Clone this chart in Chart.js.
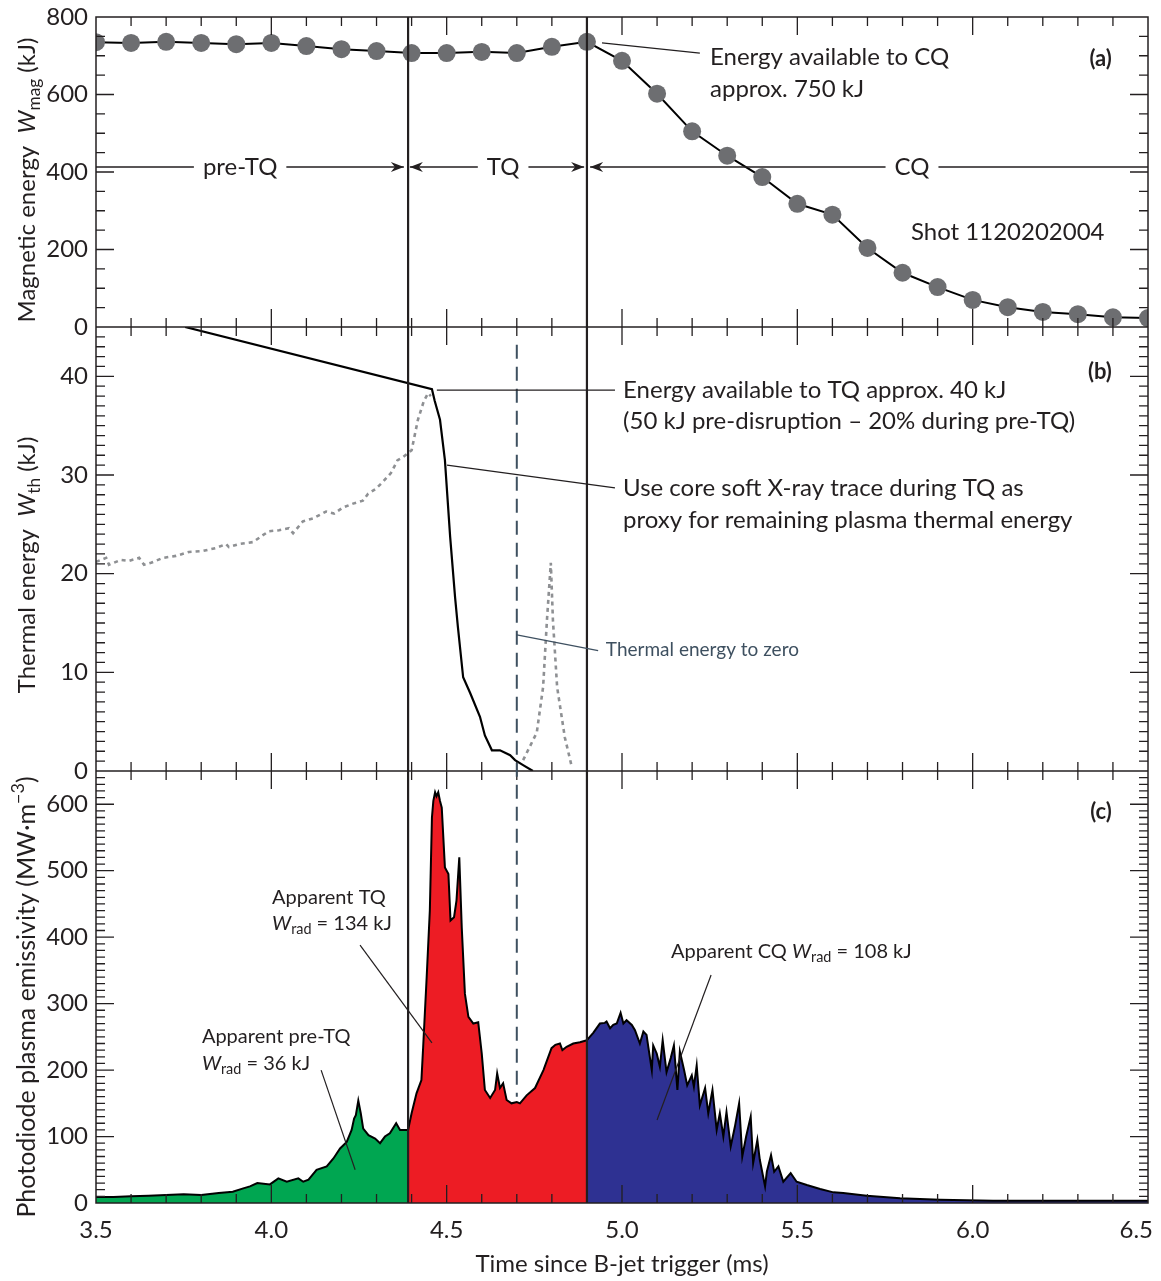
<!DOCTYPE html>
<html>
<head>
<meta charset="utf-8">
<script src="https://cdn.jsdelivr.net/npm/chart.js@4.4.1/dist/chart.umd.min.js"></script>
<style>
  html, body { margin: 0; padding: 0; background: #fff; }
  #wrap { width: 1161px; height: 1281px; position: relative; }
</style>
</head>
<body>
<div id="wrap"><canvas id="chart"></canvas></div>
<script>
var FONT = 'Lato, "Noto Sans", sans-serif';
var INK = '#231f20';

// (a) magnetic energy, kJ
var wmagTime = [3.5, 3.6, 3.7, 3.8, 3.9, 4.0, 4.1, 4.2, 4.3, 4.4, 4.5, 4.6, 4.7, 4.8, 4.9, 5.0,
                5.1, 5.2, 5.3, 5.4, 5.5, 5.6, 5.7, 5.8, 5.9, 6.0, 6.1, 6.2, 6.3, 6.4, 6.5];
var wmagValue = [735, 733, 736, 733, 730, 733, 725, 717, 712, 707, 707, 710, 707, 723, 736, 687,
                 602, 505, 442, 387, 318, 290, 204, 140, 103, 70, 51, 39, 33, 25, 23];

// (b) thermal energy proxy, kJ
var wthTime = [3.754, 4.458, 4.466, 4.481, 4.495, 4.510, 4.524, 4.532, 4.547, 4.567, 4.595,
               4.609, 4.629, 4.652, 4.681, 4.695, 4.718, 4.746];
var wthValue = [45, 38.7, 37.5, 35.6, 31.5, 23.7, 17.6, 14.6, 9.5, 7.9, 5.5,
                3.6, 2.1, 2.1, 1.6, 1.1, 0.6, 0];

// (b) core soft X-ray trace (scaled), gap where hidden behind the W_th line
var sxrTime = [3.500, 3.529, 3.537, 3.571, 3.594, 3.623, 3.637, 3.657, 3.691, 3.728, 3.765, 3.805,
               3.842, 3.871, 3.879, 3.908, 3.948, 3.976, 3.993, 4.022, 4.050, 4.062, 4.090, 4.119,
               4.156, 4.179, 4.204, 4.233, 4.261, 4.276, 4.298, 4.318, 4.341, 4.360, 4.375, 4.400,
               4.418, 4.435, 4.447, 4.455, 4.600,
               4.718, 4.757, 4.775, 4.786, 4.797, 4.803, 4.815, 4.837, 4.857];
var sxrValue = [21.2, 21.6, 20.9, 21.4, 21.3, 21.6, 20.9, 21.1, 21.6, 21.8, 22.2, 22.3,
                22.6, 23.0, 22.7, 23.0, 23.2, 23.9, 24.3, 24.4, 24.6, 24.1, 25.3, 25.6,
                26.3, 26.1, 26.7, 27.1, 27.4, 28.1, 28.6, 29.3, 30.2, 31.5, 31.8, 32.5,
                35.6, 37.5, 38.3, 38.0, null,
                1.1, 3.9, 8.5, 15.3, 21.1, 15.3, 8.5, 3.4, 0.4];

// (c) photodiode emissivity, MW/m^3
var emisTime = [3.50, 3.55, 3.60, 3.65, 3.70, 3.75, 3.80, 3.85, 3.89, 3.92, 3.939, 3.96, 3.996,
                4.020, 4.044, 4.077, 4.091, 4.106, 4.129, 4.158, 4.177, 4.196, 4.215, 4.229,
                4.236, 4.241, 4.248, 4.255, 4.262, 4.277, 4.296, 4.310, 4.324, 4.338, 4.356,
                4.367, 4.39,
                4.40, 4.414, 4.428, 4.433, 4.443, 4.452, 4.458, 4.462, 4.467, 4.471, 4.476,
                4.481, 4.486, 4.495, 4.505, 4.511, 4.521, 4.528, 4.536, 4.543, 4.552, 4.562,
                4.576, 4.590, 4.600, 4.609, 4.624, 4.638, 4.644, 4.652, 4.661, 4.671, 4.685,
                4.700, 4.709, 4.728, 4.752, 4.776, 4.799, 4.81, 4.823, 4.83, 4.842, 4.861, 4.88,
                4.90,
                4.918, 4.937, 4.951, 4.956, 4.966, 4.975, 4.985, 4.996, 5.004, 5.013, 5.028,
                5.037, 5.051, 5.061, 5.070, 5.075, 5.085, 5.089, 5.099, 5.108, 5.116, 5.127,
                5.139, 5.148, 5.158, 5.165, 5.177, 5.186, 5.199, 5.205, 5.213, 5.222, 5.237,
                5.246, 5.258, 5.270, 5.279, 5.289, 5.298, 5.310, 5.322, 5.334, 5.343, 5.354,
                5.367, 5.374, 5.386, 5.393, 5.408, 5.413, 5.425, 5.434, 5.446, 5.460, 5.481,
                5.498, 5.527, 5.565, 5.603, 5.631, 5.698, 5.793, 5.907, 6.058, 6.249, 6.50];
var emisValue = [9, 9, 10, 11, 12, 13, 12, 15, 17, 22, 25, 30, 28,
                 37, 32, 37, 32, 35, 50, 55, 67, 82, 92, 110,
                 127, 132, 154, 135, 112, 102, 97, 90, 100, 105, 120,
                 110, 110,
                 135, 165, 185, 235, 340, 440, 580, 605, 618, 612, 618,
                 605, 595, 505, 495, 425, 430, 455, 520, 415, 315, 280,
                 270, 272, 225, 170, 158, 170, 195, 173, 180, 155, 150,
                 152, 150, 162, 173, 200, 233, 238, 240, 230, 235, 240, 242,
                 245,
                 256, 270, 271, 273, 263, 268, 270, 286, 270, 275, 268,
                 260, 240, 258, 253, 235, 200, 237, 225, 205, 245, 197,
                 218, 237, 170, 228, 200, 177, 192, 175, 207, 147, 173,
                 135, 170, 110, 135, 100, 137, 85, 115, 150, 70, 100,
                 130, 60, 95, 65, 25, 47, 72, 47, 55, 32, 45,
                 32, 27, 21, 16, 15, 11, 7, 5, 3.5, 3.5, 3.5];

var phaseEdges = [4.39, 4.90];
var xTickLabels = ['3.5', '4.0', '4.5', '5.0', '5.5', '6.0', '6.5'];
var magTicks = [0, 200, 400, 600, 800];
var thTicks = [0, 10, 20, 30, 40];
var emisTicks = [0, 100, 200, 300, 400, 500, 600];

function pts(t, v) {
  return t.map(function (x, i) { return { x: x, y: v[i] }; });
}
function slice(lo, hi) {
  return pts(emisTime, emisValue).filter(function (p) { return p.x >= lo && p.x <= hi; });
}

// rich text: segments with italic / sub / sup parts
function segFont(s, size) {
  var sz = (s.sub || s.sup) ? size * 0.72 : size;
  return (s.i ? 'italic ' : '') + (s.b ? 'bold ' : '') + sz + 'px ' + FONT;
}
function richWidth(ctx, segs, size) {
  var w = 0;
  segs.forEach(function (s) { ctx.font = segFont(s, size); w += ctx.measureText(s.t).width; });
  return w;
}
function drawRich(ctx, segs, x, y, size, align, color) {
  var w = richWidth(ctx, segs, size);
  var cx = align === 'center' ? x - w / 2 : align === 'right' ? x - w : x;
  ctx.fillStyle = color || INK;
  ctx.textBaseline = 'middle';
  ctx.textAlign = 'left';
  segs.forEach(function (s) {
    ctx.font = segFont(s, size);
    var dy = s.sub ? size * 0.3 : s.sup ? -size * 0.35 : 0;
    ctx.fillText(s.t, cx, y + dy);
    cx += ctx.measureText(s.t).width;
  });
}

function arrowHead(ctx, x, y, dir) {
  ctx.beginPath();
  ctx.moveTo(x, y);
  ctx.lineTo(x - dir * 13, y - 5);
  ctx.lineTo(x - dir * 9, y);
  ctx.lineTo(x - dir * 13, y + 5);
  ctx.closePath();
  ctx.fill();
}

var overlay = {
  id: 'overlay',
  afterDatasetsDraw: function (chart) {
    var ctx = chart.ctx, ca = chart.chartArea, s = chart.scales;
    var x = s.x, ya = s.ya, yb = s.yb, yc = s.yc;
    ctx.save();
    ctx.strokeStyle = INK;
    ctx.fillStyle = INK;

    // frame and panel separators
    ctx.lineWidth = 1.5;
    ctx.strokeRect(ca.left, ca.top, ca.right - ca.left, ca.bottom - ca.top);
    [ya.bottom, yb.bottom].forEach(function (py) {
      ctx.beginPath(); ctx.moveTo(ca.left, py); ctx.lineTo(ca.right, py); ctx.stroke();
    });

    // x ticks: top, separators (both ways), bottom
    ctx.lineWidth = 1.3;
    for (var i = 1; i < 30; i++) {
      var px = x.getPixelForValue(3.5 + i * 0.1);
      var len = i % 5 === 0 ? 18 : 9;
      ctx.beginPath();
      ctx.moveTo(px, ca.top); ctx.lineTo(px, ca.top + len);
      ctx.moveTo(px, ya.bottom - len); ctx.lineTo(px, ya.bottom + len);
      ctx.moveTo(px, yb.bottom - len); ctx.lineTo(px, yb.bottom + len);
      ctx.moveTo(px, ca.bottom - len); ctx.lineTo(px, ca.bottom);
      ctx.stroke();
    }
    // x tick labels, kept inside the canvas at the ends
    ctx.font = '24px ' + FONT;
    xTickLabels.forEach(function (lab) {
      var w = ctx.measureText(lab).width;
      var cx = Math.min(x.getPixelForValue(parseFloat(lab)), chart.width - w / 2 - 8);
      drawRich(ctx, [{ t: lab }], cx, ca.bottom + 27, 24, 'center');
    });
    // y ticks, inward on both sides
    [[ya, 50, 200], [yb, 1, 10], [yc, 10, 100]].forEach(function (cfg) {
      var sc = cfg[0];
      for (var v = sc.min + cfg[1]; v < sc.max - 1e-6; v += cfg[1]) {
        var py = sc.getPixelForValue(v);
        var major = Math.abs(v / cfg[2] - Math.round(v / cfg[2])) < 1e-6;
        var l = major ? 18 : 9;
        ctx.beginPath();
        ctx.moveTo(ca.left, py); ctx.lineTo(ca.left + l, py);
        ctx.moveTo(ca.right - l, py); ctx.lineTo(ca.right, py);
        ctx.stroke();
      }
    });

    // phase boundaries
    ctx.lineWidth = 2.2;
    phaseEdges.forEach(function (t) {
      var px = x.getPixelForValue(t);
      ctx.beginPath(); ctx.moveTo(px, ca.top); ctx.lineTo(px, ca.bottom); ctx.stroke();
    });
    // thermal energy to zero marker
    ctx.save();
    ctx.strokeStyle = '#3e5060';
    ctx.lineWidth = 2;
    ctx.setLineDash([14, 8]);
    var zx = x.getPixelForValue(4.70);
    ctx.beginPath(); ctx.moveTo(zx, yb.getPixelForValue(43.2)); ctx.lineTo(zx, yc.getPixelForValue(160)); ctx.stroke();
    ctx.restore();

    // phase arrows in (a)
    var ay = ya.getPixelForValue(413);
    ctx.lineWidth = 1.6;
    function row(t1, t2, label, tc, la, ra) {
      var x1 = t1 === null ? ca.left : x.getPixelForValue(t1);
      var x2 = t2 === null ? ca.right : x.getPixelForValue(t2);
      var cx = x.getPixelForValue(tc);
      ctx.font = '24px ' + FONT;
      var w = ctx.measureText(label).width / 2 + 9;
      ctx.beginPath();
      ctx.moveTo(x1, ay); ctx.lineTo(cx - w, ay);
      ctx.moveTo(cx + w, ay); ctx.lineTo(x2, ay);
      ctx.stroke();
      if (la) arrowHead(ctx, x1, ay, -1);
      if (ra) arrowHead(ctx, x2, ay, 1);
      drawRich(ctx, [{ t: label }], cx, ay, 24, 'center');
    }
    row(null, 4.378, 'pre-TQ', 3.911, false, true);
    row(4.395, 4.892, 'TQ', 4.661, true, true);
    row(4.909, null, 'CQ', 5.827, true, false);

    // leader lines
    ctx.lineWidth = 1.2;
    function leader(sc1, t1, v1, sc2, t2, v2, col) {
      ctx.strokeStyle = col || INK;
      ctx.beginPath();
      ctx.moveTo(x.getPixelForValue(t1), sc1.getPixelForValue(v1));
      ctx.lineTo(x.getPixelForValue(t2), sc2.getPixelForValue(v2));
      ctx.stroke();
    }
    leader(ya, 4.943, 733, ya, 5.222, 707);
    leader(yb, 4.472, 38.6, yb, 4.980, 38.6);
    leader(yb, 4.501, 31.0, yb, 4.980, 28.7);
    leader(yb, 4.70, 13.8, yb, 4.932, 12.2, '#3e5060');
    leader(yc, 4.253, 388, yc, 4.458, 241);
    leader(yc, 4.142, 200, yc, 4.239, 50);
    leader(yc, 5.254, 343, yc, 5.100, 125);

    // annotation text
    function txt(sc, t, v, segs, size, align, color) {
      drawRich(ctx, segs, x.getPixelForValue(t), sc.getPixelForValue(v), size, align || 'left', color);
    }
    txt(ya, 5.251, 697, [{ t: 'Energy available to CQ' }], 24);
    txt(ya, 5.251, 614, [{ t: 'approx. 750 kJ' }], 24);
    txt(ya, 5.824, 245, [{ t: 'Shot 1120202004' }], 24);
    txt(ya, 6.397, 692, [{ t: '(a)', b: 1 }], 22, 'right');
    txt(yb, 5.003, 38.6, [{ t: 'Energy available to TQ approx. 40 kJ' }], 24);
    txt(yb, 5.003, 35.4, [{ t: '(50 kJ pre-disruption \u2013 20% during pre-TQ)' }], 24);
    txt(yb, 5.003, 28.7, [{ t: 'Use core soft X-ray trace during TQ as' }], 24);
    txt(yb, 5.003, 25.4, [{ t: 'proxy for remaining plasma thermal energy' }], 24);
    txt(yb, 4.954, 12.3, [{ t: 'Thermal energy to zero' }], 19, 'left', '#3e5060');
    txt(yb, 6.397, 40.4, [{ t: '(b)', b: 1 }], 22, 'right');
    txt(yc, 4.002, 460, [{ t: 'Apparent TQ' }], 20);
    txt(yc, 4.002, 421, [{ t: 'W', i: 1 }, { t: 'rad', sub: 1 }, { t: ' = 134 kJ' }], 20);
    txt(yc, 3.802, 250, [{ t: 'Apparent pre-TQ' }], 20);
    txt(yc, 3.802, 210, [{ t: 'W', i: 1 }, { t: 'rad', sub: 1 }, { t: ' = 36 kJ' }], 20);
    txt(yc, 5.140, 379, [{ t: 'Apparent CQ ' }, { t: 'W', i: 1 }, { t: 'rad', sub: 1 }, { t: ' = 108 kJ' }], 20);
    txt(yc, 6.397, 588, [{ t: '(c)', b: 1 }], 22, 'right');

    // rotated y titles
    var titles = [
      [ya, 8, 24, [{ t: 'Magnetic energy  ' }, { t: 'W', i: 1 }, { t: 'mag', sub: 1 }, { t: ' (kJ)' }]],
      [yb, 16, 24, [{ t: 'Thermal energy  ' }, { t: 'W', i: 1 }, { t: 'th', sub: 1 }, { t: ' (kJ)' }]],
      [yc, 10, 25, [{ t: 'Photodiode plasma emissivity (MW\u00b7m' }, { t: '\u22123', sup: 1 }, { t: ')' }]]
    ];
    titles.forEach(function (tt) {
      ctx.save();
      ctx.translate(27, (tt[0].top + tt[0].bottom) / 2 + tt[1]);
      ctx.rotate(-Math.PI / 2);
      drawRich(ctx, tt[3], 0, 0, tt[2], 'center');
      ctx.restore();
    });
    ctx.restore();
  }
};

function yAxis(weight, max, tickValues) {
  return {
    type: 'linear', position: 'left', stack: 'panels', stackWeight: weight,
    min: 0, max: max,
    ticks: { color: INK, font: { family: FONT, size: 24 }, padding: 8 },
    grid: { display: false, drawTicks: false },
    border: { display: false },
    afterBuildTicks: function (sc) {
      sc.ticks = tickValues.map(function (v) { return { value: v }; });
    },
    afterFit: function (sc) { sc.width = 96; sc.paddingTop = 0; sc.paddingBottom = 0; }
  };
}

var fillBase = { borderColor: '#000', borderWidth: 2, pointRadius: 0, fill: 'origin', tension: 0, yAxisID: 'yc' };

new Chart(document.getElementById('chart'), {
  type: 'line',
  data: {
    datasets: [
      { label: 'Wmag', data: pts(wmagTime, wmagValue), yAxisID: 'ya', borderColor: '#000', borderWidth: 2,
        pointRadius: 9, pointBackgroundColor: '#6d6e71', pointBorderWidth: 0, clip: 0, tension: 0 },
      { label: 'Wth', data: pts(wthTime, wthValue), yAxisID: 'yb', borderColor: '#000', borderWidth: 2.2,
        pointRadius: 0, tension: 0, clip: 0 },
      { label: 'SXR', data: pts(sxrTime, sxrValue), yAxisID: 'yb', borderColor: '#8e9093', borderWidth: 2.6,
        borderDash: [4, 4], pointRadius: 0, tension: 0, spanGaps: false },
      Object.assign({ label: 'pre-TQ', data: slice(3.5, phaseEdges[0]), backgroundColor: '#00a651' }, fillBase),
      Object.assign({ label: 'TQ', data: slice(phaseEdges[0], phaseEdges[1]), backgroundColor: '#ed1c24' }, fillBase),
      Object.assign({ label: 'CQ', data: slice(phaseEdges[1], 6.5), backgroundColor: '#2e3192' }, fillBase)
    ]
  },
  options: {
    responsive: true,
    maintainAspectRatio: false,
    animation: false,
    devicePixelRatio: 1,
    layout: { padding: { top: 17, right: 13, left: 0, bottom: 0 } },
    plugins: { legend: { display: false }, tooltip: { enabled: false } },
    scales: {
      x: {
        type: 'linear', position: 'bottom', min: 3.5, max: 6.5,
        ticks: { display: false, stepSize: 0.5 },
        grid: { display: false, drawTicks: false },
        border: { display: false },
        title: { display: true, text: 'Time since B-jet trigger (ms)', color: INK,
                 font: { family: FONT, size: 24 }, padding: { top: 0, bottom: 2 } },
        afterFit: function (sc) { sc.height = 78; sc.paddingLeft = 0; sc.paddingRight = 0; }
      },
      yc: yAxis(432, 650, emisTicks),
      yb: yAxis(444, 45, thTicks),
      ya: yAxis(310, 800, magTicks)
    }
  },
  plugins: [overlay]
});
</script>
</body>
</html>
